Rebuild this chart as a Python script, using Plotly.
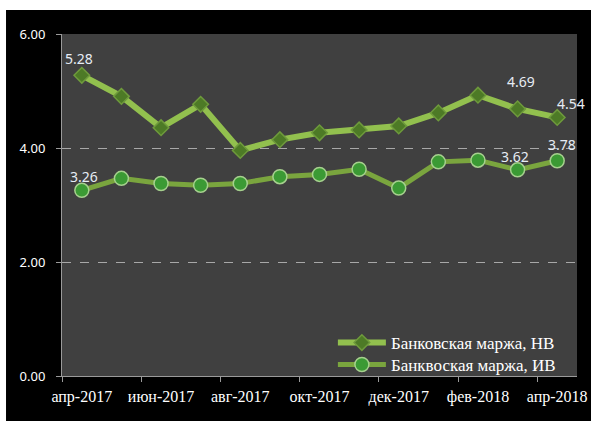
import plotly.graph_objects as go

months = ["апр-2017", "май-2017", "июн-2017", "июл-2017", "авг-2017", "сен-2017",
          "окт-2017", "ноя-2017", "дек-2017", "янв-2018", "фев-2018", "мар-2018", "апр-2018"]
margin_nv = [5.28, 4.91, 4.36, 4.77, 3.96, 4.15, 4.27, 4.32, 4.39, 4.62, 4.93, 4.69, 4.54]
margin_iv = [3.26, 3.47, 3.38, 3.35, 3.38, 3.50, 3.54, 3.63, 3.30, 3.76, 3.79, 3.62, 3.78]
labeled_nv = [0, 11, 12]
labeled_iv = [0, 11, 12]
name_nv = "Банковская маржа, НВ"
name_iv = "Банквоская маржа, ИВ"
title_text = "Процентная банковская маржа (в годовых)"

# label offsets in pixels (x, y) for the labelled points
shift_nv = [(-3, 17), (3, 27), (14, 14)]
shift_iv = [(2, 14), (-3, 13), (5, 16)]

label_font = dict(family="Noto Sans", size=14, color="#e6ecf4")
legend_font = dict(family="Liberation Serif", size=17, color="#ffffff")

fig = go.Figure()
fig.add_trace(go.Scatter(
    x=months, y=margin_nv, name=name_nv, mode="lines+markers", legend="legend",
    line=dict(color="#92c04e", width=6),
    marker=dict(symbol="diamond", size=12, color="#4d7a26",
                line=dict(color="#6e9a3c", width=1.5)),
))
fig.add_trace(go.Scatter(
    x=months, y=margin_iv, name=name_iv, mode="lines+markers", legend="legend2",
    line=dict(color="#7aa53e", width=5),
    marker=dict(symbol="circle", size=14, color="#3b9a34",
                line=dict(color="#a6d08e", width=1.5)),
))

annotations = []
for idxs, vals, shifts in ((labeled_nv, margin_nv, shift_nv), (labeled_iv, margin_iv, shift_iv)):
    for i, (dx, dy) in zip(idxs, shifts):
        annotations.append(dict(
            x=months[i], y=vals[i], xref="x", yref="y", text=f"{vals[i]:.2f}",
            showarrow=False, xshift=dx, yshift=dy, font=label_font,
            xanchor="center", yanchor="middle"))

annotations.append(dict(
    text="<b>" + title_text + "</b>", xref="paper", yref="paper",
    x=0.47, y=1.0935, xanchor="center", yanchor="bottom", showarrow=False,
    font=dict(family="Liberation Serif", size=24, color="#000000")))

fig.update_layout(
    width=591, height=421,
    margin=dict(l=62, r=14, t=34, b=45),
    paper_bgcolor="#000000",
    plot_bgcolor="#404040",
    showlegend=True,
    legend=dict(x=0.526, y=0.0965, xanchor="left", yanchor="middle",
                bgcolor="rgba(0,0,0,0)", font=legend_font, itemwidth=48),
    legend2=dict(x=0.526, y=0.0322, xanchor="left", yanchor="middle",
                 bgcolor="rgba(0,0,0,0)", font=legend_font, itemwidth=48),
    xaxis=dict(
        type="category", range=[-0.5, 12.5], tickmode="linear", tick0=0, dtick=2,
        tickson="boundaries", ticks="outside", ticklen=5, tickcolor="#9a9a9a",
        tickangle=0, ticklabelstandoff=6, automargin=False,
        showgrid=False, showline=True, linecolor="#9a9a9a", linewidth=1,
        tickfont=dict(family="Liberation Serif", size=16, color="#ffffff"),
        zeroline=False,
    ),
    yaxis=dict(
        range=[0, 6.005], tickmode="linear", tick0=0, dtick=2, tickformat=".2f",
        ticks="outside", ticklen=5, tickcolor="#9a9a9a", ticklabelstandoff=8,
        automargin=False,
        showgrid=True, gridcolor="#a8a8a8", griddash="dash", gridwidth=1,
        showline=True, linecolor="#9a9a9a", linewidth=1, zeroline=False,
        tickfont=dict(family="Noto Sans", size=13, color="#ffffff"),
    ),
    shapes=[
        dict(type="rect", xref="paper", yref="paper", x0=-0.2, x1=1.1,
             y0=1.0702, y1=1.3, fillcolor="#ffffff", line=dict(width=0), layer="below"),
        dict(type="rect", xref="paper", yref="paper", x0=-0.2, x1=-0.1087,
             y0=-0.2, y1=1.3, fillcolor="#ffffff", line=dict(width=0), layer="below"),
    ],
    annotations=annotations,
)

fig.write_html("out.html", config={"displayModeBar": False},
               post_script="document.body.style.margin='0';document.body.style.overflow='hidden';")
